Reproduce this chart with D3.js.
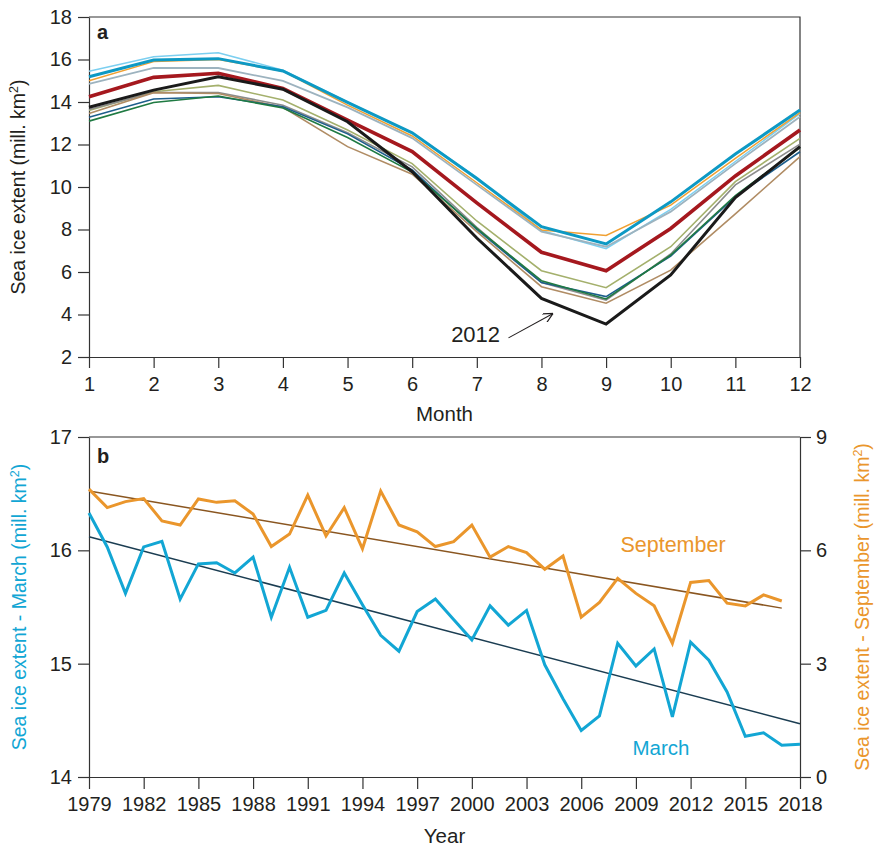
<!DOCTYPE html>
<html>
<head>
<meta charset="utf-8">
<script src="https://cdn.jsdelivr.net/npm/d3@7"></script>
<style>
  body { margin: 0; background: #fff; }
  svg { font-family: "Liberation Sans", Arial, sans-serif; }
  .tick text { font-size: 20px; fill: #231f20; }
  .tick line, .domain { stroke: #333; stroke-width: 1.2; }
</style>
</head>
<body>
<svg width="874" height="848"></svg>
<script>
// ---- panel a: monthly extent, one line per year ----
const months = [1, 2, 3, 4, 5, 6, 7, 8, 9, 10, 11, 12];
const extLightBlue = [15.45, 16.13, 16.32, 15.5, 14.0, 12.55, 10.45, 7.95, 7.1, 8.95, 11.2, 13.45];
const extOrange = [15.0, 15.9, 16.0, 15.45, 13.85, 12.4, 10.2, 7.98, 7.72, 9.15, 11.35, 13.5];
const extGreyBlue = [14.85, 15.6, 15.6, 14.99, 13.75, 12.3, 10.1, 7.9, 7.19, 8.84, 11.1, 13.31];
const extOlive = [13.6, 14.48, 14.78, 14.09, 12.68, 11.1, 8.4, 6.06, 5.26, 7.19, 10.25, 12.29];
const extGrey = [13.65, 14.45, 14.45, 13.85, 12.55, 10.95, 8.1, 5.5, 4.68, 6.85, 10.1, 12.02];
const extTan = [13.46, 14.44, 14.4, 13.75, 11.9, 10.6, 7.9, 5.31, 4.53, 6.09, 8.74, 11.43];
const extDarkBlue = [13.28, 14.14, 14.25, 13.78, 12.5, 10.8, 8.0, 5.5, 4.84, 6.75, 9.55, 11.66];
const extGreen = [13.1, 13.98, 14.28, 13.72, 12.33, 10.7, 8.05, 5.59, 4.73, 6.8, 9.6, 11.85];
const extRed = [14.25, 15.16, 15.35, 14.64, 13.15, 11.67, 9.25, 6.93, 6.06, 8.05, 10.52, 12.68];
const extTeal = [15.19, 15.98, 16.04, 15.46, 13.98, 12.55, 10.4, 8.13, 7.32, 9.3, 11.55, 13.62];
const ext2012 = [13.75, 14.56, 15.19, 14.6, 13.07, 10.72, 7.6, 4.76, 3.55, 5.86, 9.5, 11.9];
const yTicksA = [2, 4, 6, 8, 10, 12, 14, 16, 18];

// ---- panel b: March and September extent per year ----
const years = d3.range(1979, 2019);
const marchExt = [16.33, 16.03, 15.62, 16.03, 16.08, 15.57, 15.88, 15.89, 15.80, 15.94,
  15.41, 15.85, 15.41, 15.47, 15.80, 15.52, 15.25, 15.11, 15.46, 15.57,
  15.39, 15.21, 15.51, 15.34, 15.47, 14.99, 14.69, 14.41, 14.54, 15.18,
  14.98, 15.13, 14.53, 15.19, 15.03, 14.75, 14.36, 14.39, 14.28, 14.29];
const septExt = [7.62, 7.13, 7.29, 7.37, 6.78, 6.67, 7.36, 7.27, 7.31, 6.96,
  6.10, 6.43, 7.46, 6.38, 7.13, 6.04, 7.57, 6.67, 6.49, 6.10,
  6.23, 6.67, 5.82, 6.10, 5.94, 5.50, 5.85, 4.23, 4.62, 5.26,
  4.86, 4.53, 3.54, 5.15, 5.20, 4.60, 4.53, 4.82, 4.66];
const marchTrend = [[1979, 16.12], [2018, 14.47]];
const septTrend = [[1979, 7.57], [2017, 4.47]];
const yearTicks = d3.range(1979, 2019, 3);
const marchTicks = [14, 15, 16, 17];
const septTicks = [0, 3, 6, 9];

const svg = d3.select("svg");
const left = 89, right = 800;

// line styles for panel a, thin ones first so the thick ones sit on top
const linesA = [
  { v: extLightBlue, c: "#7ccff0", w: 1.5 },
  { v: extOrange, c: "#f0a032", w: 1.5 },
  { v: extGreyBlue, c: "#9db3bf", w: 1.8 },
  { v: extOlive, c: "#a4b06c", w: 1.6 },
  { v: extGrey, c: "#8c8c8c", w: 1.6 },
  { v: extTan, c: "#b08c64", w: 1.6 },
  { v: extDarkBlue, c: "#1d5e8c", w: 1.6 },
  { v: extGreen, c: "#1f7a42", w: 1.6 },
  { v: extRed, c: "#a5181e", w: 3.6 },
  { v: extTeal, c: "#0d99c4", w: 3 },
  { v: ext2012, c: "#1a1a1a", w: 3 },
];

// ================= panel a =================
const xA = d3.scaleLinear().domain([1, 12]).range([left, right]);
const yA = d3.scaleLinear().domain([2, 18]).range([357, 17]);

const gA = svg.append("g");
gA.append("g")
  .attr("transform", `translate(0,${yA(2)})`)
  .call(d3.axisBottom(xA).tickValues(months).tickSize(11).tickPadding(9).tickSizeOuter(0));
gA.append("g")
  .attr("transform", `translate(${left},0)`)
  .call(d3.axisLeft(yA).tickValues(yTicksA).tickSize(11).tickPadding(6).tickSizeOuter(0));
// frame top and right
gA.append("path")
  .attr("d", `M${left},${yA(18)}H${right}V${yA(2)}`)
  .attr("fill", "none").attr("stroke", "#333").attr("stroke-width", 1.2);

const lineA = d3.line().x((d, i) => xA(months[i])).y(d => yA(d));
gA.selectAll("path.series")
  .data(linesA)
  .enter()
  .append("path")
  .attr("class", "series")
  .attr("d", d => lineA(d.v))
  .attr("fill", "none")
  .attr("stroke", d => d.c)
  .attr("stroke-width", d => d.w)
  .attr("stroke-linejoin", "miter");

gA.append("text").attr("x", 97).attr("y", 39)
  .attr("font-size", 20).attr("font-weight", "bold").attr("fill", "#231f20").text("a");

// 2012 annotation
svg.append("defs").append("marker")
  .attr("id", "arr").attr("viewBox", "0 0 10 10")
  .attr("refX", 10).attr("refY", 5)
  .attr("markerWidth", 10).attr("markerHeight", 10)
  .attr("markerUnits", "userSpaceOnUse")
  .attr("orient", "auto")
  .append("path").attr("d", "M0,0L10,5L0,10")
  .attr("fill", "none").attr("stroke", "#231f20").attr("stroke-width", 1.2);
gA.append("line")
  .attr("x1", xA(7.49)).attr("y1", yA(2.9))
  .attr("x2", xA(8.18)).attr("y2", yA(4.05))
  .attr("stroke", "#231f20").attr("stroke-width", 1.1)
  .attr("marker-end", "url(#arr)");
gA.append("text").attr("x", xA(7.36)).attr("y", yA(2.72))
  .attr("text-anchor", "end").attr("font-size", 22).attr("fill", "#231f20").text("2012");

gA.append("text").attr("x", (left + right) / 2).attr("y", 421)
  .attr("text-anchor", "middle").attr("font-size", 20.5).attr("fill", "#231f20").text("Month");
const tA = gA.append("text")
  .attr("transform", `translate(25,${yA(10)}) rotate(-90)`)
  .attr("text-anchor", "middle").attr("font-size", 19.5).attr("fill", "#231f20");
tA.append("tspan").text("Sea ice extent (mill. km");
tA.append("tspan").attr("font-size", 12.5).attr("dy", -7).text("2");
tA.append("tspan").attr("dy", 7).text(")");

// ================= panel b =================
const xB = d3.scaleLinear().domain([1979, 2018]).range([left, right]);
const yM = d3.scaleLinear().domain([14, 17]).range([777, 437]);
const yS = d3.scaleLinear().domain([0, 9]).range([777, 437]);

const gB = svg.append("g");
gB.append("g")
  .attr("transform", `translate(0,${yM(14)})`)
  .call(d3.axisBottom(xB).tickValues(yearTicks).tickFormat(d3.format("d")).tickSize(12).tickPadding(8).tickSizeOuter(0));
gB.append("g")
  .attr("transform", `translate(${left},0)`)
  .call(d3.axisLeft(yM).tickValues(marchTicks).tickFormat(d3.format("d")).tickSize(11).tickPadding(6).tickSizeOuter(0));
gB.append("g")
  .attr("transform", `translate(${right},0)`)
  .call(d3.axisRight(yS).tickValues(septTicks).tickFormat(d3.format("d")).tickSize(11).tickPadding(5).tickSizeOuter(0));
gB.append("path")
  .attr("d", `M${left},${yM(17)}H${right}`)
  .attr("stroke", "#333").attr("stroke-width", 1.2);

const trend = (ys) => d3.line().x(d => xB(d[0])).y(d => ys(d[1]));
gB.append("path").attr("d", trend(yS)(septTrend))
  .attr("fill", "none").attr("stroke", "#8a5620").attr("stroke-width", 1.5);
gB.append("path").attr("d", trend(yM)(marchTrend))
  .attr("fill", "none").attr("stroke", "#1b3d52").attr("stroke-width", 1.5);

gB.append("path")
  .attr("d", d3.line().x((d, i) => xB(years[i])).y(d => yS(d))(septExt))
  .attr("fill", "none").attr("stroke", "#ea962c").attr("stroke-width", 3);
gB.append("path")
  .attr("d", d3.line().x((d, i) => xB(years[i])).y(d => yM(d))(marchExt))
  .attr("fill", "none").attr("stroke", "#12a6d4").attr("stroke-width", 3);

gB.append("text").attr("x", 97).attr("y", 463)
  .attr("font-size", 20).attr("font-weight", "bold").attr("fill", "#231f20").text("b");
gB.append("text").attr("x", 673).attr("y", 552)
  .attr("text-anchor", "middle").attr("font-size", 21.5).attr("fill", "#ea962c").text("September");
gB.append("text").attr("x", 661).attr("y", 755)
  .attr("text-anchor", "middle").attr("font-size", 20.5).attr("fill", "#12a6d4").text("March");

gB.append("text").attr("x", (left + right) / 2).attr("y", 843)
  .attr("text-anchor", "middle").attr("font-size", 20.5).attr("fill", "#231f20").text("Year");

const tM = gB.append("text")
  .attr("transform", `translate(26,${yM(15.5)}) rotate(-90)`)
  .attr("text-anchor", "middle").attr("font-size", 19.5).attr("fill", "#12a6d4");
tM.append("tspan").text("Sea ice extent - March (mill. km");
tM.append("tspan").attr("font-size", 12.5).attr("dy", -7).text("2");
tM.append("tspan").attr("dy", 7).text(")");

const tS = gB.append("text")
  .attr("transform", `translate(869,${yS(4.5)}) rotate(-90)`)
  .attr("text-anchor", "middle").attr("font-size", 19.5).attr("fill", "#ea962c");
tS.append("tspan").text("Sea ice extent - September (mill. km");
tS.append("tspan").attr("font-size", 12.5).attr("dy", -7).text("2");
tS.append("tspan").attr("dy", 7).text(")");
</script>
</body>
</html>
